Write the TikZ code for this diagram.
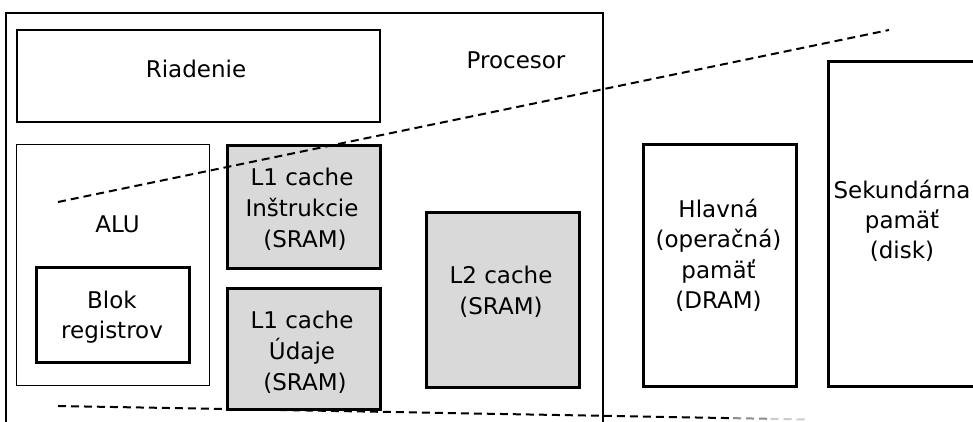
\documentclass[tikz,border=0pt]{standalone}
\usepackage{fontspec}
\setmainfont{DejaVu Sans}
\usetikzlibrary{calc}
\definecolor{cachegray}{HTML}{D9D9D9}
\tikzset{
  thinbox/.style={draw=black, line width=1.4pt, inner sep=0pt, anchor=north west},
  thickbox/.style={draw=black, line width=3pt, inner sep=0pt, anchor=north west},
  cachebox/.style={thickbox, fill=cachegray},
  lbl/.style={font=\fontsize{23}{30}\selectfont, inner sep=0pt, anchor=base},
  dashline/.style={line width=2pt, dash pattern=on 8pt off 5pt},
  procline/.style={draw=black, line width=1.5pt},
}
\begin{document}
\begin{tikzpicture}[x=1pt,y=-1pt]
\useasboundingbox (0,0) rectangle (973,421);
\clip (0,0) rectangle (973,421);
% processor outline (open at the bottom)
\coordinate (pbl) at (6,440);
\coordinate (ptl) at (6,13);
\coordinate (ptr) at (603,13);
\coordinate (pbr) at (603,440);
\draw[procline] (pbl) -- (ptl) -- (ptr) -- (pbr);
% boxes
\node[thickbox, line width=2.2pt, minimum width=362.5pt, minimum height=92pt] (riad) at (16,29) {};
\node[thinbox, minimum width=193pt, minimum height=241pt] (alu) at (16,144) {};
\node[thickbox, minimum width=153pt, minimum height=95pt] (blok) at (35,266) {};
\node[cachebox, minimum width=153pt, minimum height=122.5pt] (l1i) at (225.5,144) {};
\node[cachebox, minimum width=153pt, minimum height=121pt] (l1d) at (225.5,287) {};
\node[cachebox, minimum width=153.5pt, minimum height=175pt] (l2) at (424.5,211) {};
\node[thickbox, minimum width=153pt, minimum height=242pt] (hlav) at (642,143) {};
\node[thickbox, minimum width=152pt, minimum height=325pt] (sek) at (827,60) {};
% labels
\node[lbl] (triad) at (196,77) {Riadenie};
\node[lbl] (tproc) at (516,68) {Procesor};
\node[lbl] (talu) at (117.5,232) {ALU};
\node[lbl] (tblok1) at (112,308) {Blok};
\node[lbl] (tblok2) at (112,338) {registrov};
\node[lbl] (tl1i1) at (302,185) {L1 cache};
\node[lbl] (tl1i2) at (302,216) {Inštrukcie};
\node[lbl] (tl1i3) at (305,247) {(SRAM)};
\node[lbl] (tl1d1) at (302,328) {L1 cache};
\node[lbl] (tl1d2) at (302,359) {Údaje};
\node[lbl] (tl1d3) at (305,390) {(SRAM)};
\node[lbl] (tl21) at (501,283) {L2 cache};
\node[lbl] (tl22) at (501,314) {(SRAM)};
\node[lbl] (th1) at (718.5,217) {Hlavná};
\node[lbl] (th2) at (718.5,247.5) {(operačná)};
\node[lbl] (th3) at (718.5,278) {pamäť};
\node[lbl] (th4) at (718.5,308.5) {(DRAM)};
\node[lbl] (ts1) at (902,198) {Sekundárna};
\node[lbl] (ts2) at (902,228) {pamäť};
\node[lbl] (ts3) at (902,258) {(disk)};
% dashed lines
\coordinate (u1) at (58,202);
\coordinate (u2) at (889,30);
\coordinate (d1) at (58,406);
\coordinate (d2) at (808,419.5);
\draw[dashline] (u1) -- (u2);
\draw[dashline] (d1) -- ($(d1)!0.9!(d2)$);
\draw[dashline, black!45] ($(d1)!0.9!(d2)$) -- ($(d1)!0.95!(d2)$);
\draw[dashline, black!20] ($(d1)!0.95!(d2)$) -- (d2);
\end{tikzpicture}
\end{document}
